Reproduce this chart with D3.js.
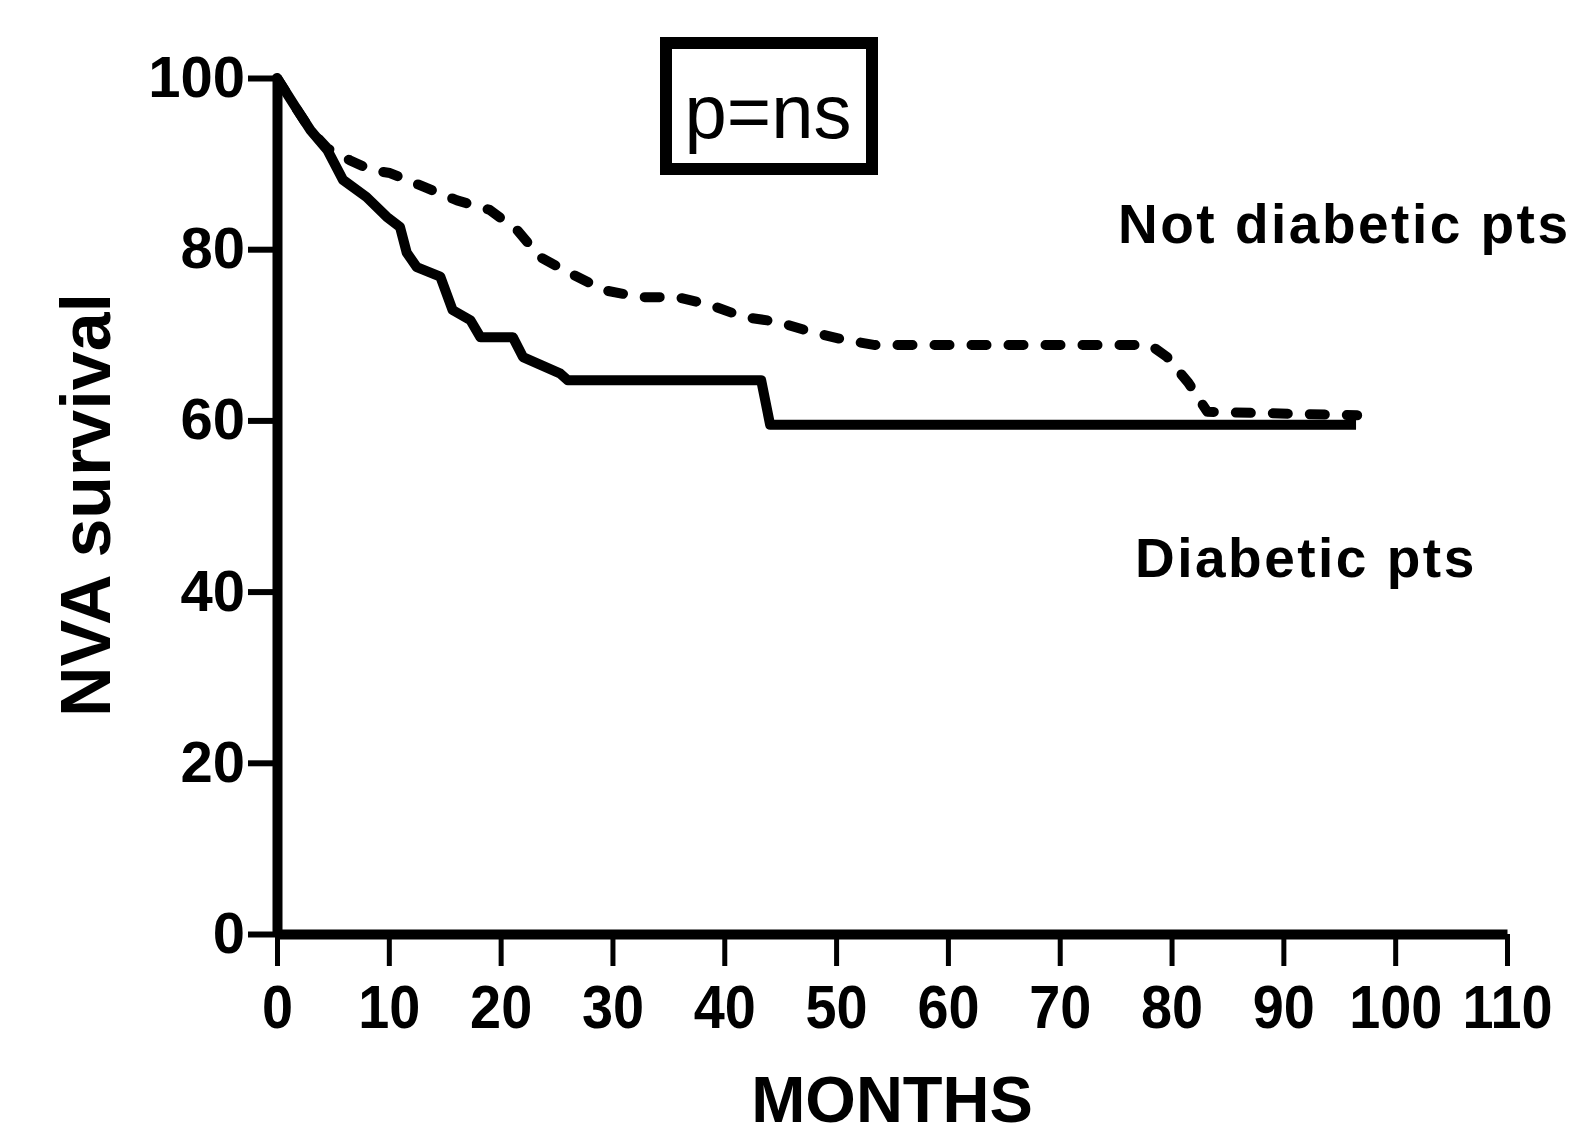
<!DOCTYPE html>
<html>
<head>
<meta charset="utf-8">
<script src="https://cdn.jsdelivr.net/npm/d3@7"></script>
<style>
  body { margin: 0; background: #fff; }
  svg { display: block; }
</style>
</head>
<body>
<div id="chart"></div>
<script>
// survival curves (months, % survival)
const diabetic = [
  [0, 100], [1.8, 96.3], [3.0, 93.9], [4.5, 91.6], [5.9, 88.1], [8.0, 86.1],
  [9.8, 83.8], [11.0, 82.6], [11.6, 79.6], [12.5, 77.9], [14.6, 76.8],
  [15.7, 72.9], [17.3, 71.7], [18.2, 69.7], [21.1, 69.7], [22.0, 67.4],
  [25.3, 65.5], [26.0, 64.7], [43.3, 64.7], [44.1, 59.5], [96.5, 59.5]
];
const notDiabetic = [
  [0, 100], [1.8, 96.3], [3.0, 93.9], [4.5, 91.8], [6.5, 90.4], [8.5, 89.2],
  [10.1, 88.9], [13.1, 87.3], [16.1, 85.7], [19.0, 84.6], [21.5, 82.2],
  [23.5, 79.1], [26.2, 77.2], [29.3, 75.2], [32.5, 74.4], [35.8, 74.4],
  [38.7, 73.5], [41.7, 72.1], [44.8, 71.5], [47.9, 70.3], [50.8, 69.4],
  [53.5, 68.8], [78.1, 68.8], [79.6, 67.4], [81.5, 64.4], [83.2, 61.0],
  [96.6, 60.6]
];
const xTicks = [0, 10, 20, 30, 40, 50, 60, 70, 80, 90, 100, 110];
const yTicks = [0, 20, 40, 60, 80, 100];

const width = 1573, height = 1145;
const svg = d3.select("#chart").append("svg")
    .attr("width", width).attr("height", height);

const x = d3.scaleLinear().domain([0, 110]).range([277, 1507]);
const y = d3.scaleLinear().domain([0, 100]).range([934, 78]);

// y axis
const yAxis = svg.append("g")
    .attr("transform", `translate(${x(0)},0)`)
    .call(d3.axisLeft(y).tickValues(yTicks).tickSize(29).tickSizeOuter(0).tickPadding(3));
yAxis.select(".domain").attr("stroke-width", 10);
yAxis.selectAll(".tick line").attr("stroke-width", 6);
yAxis.selectAll(".tick text")
    .attr("font-family", "Liberation Sans, Arial, sans-serif")
    .attr("font-weight", "bold").attr("font-size", 58).attr("fill", "#000");

// x axis
const xAxis = svg.append("g")
    .attr("transform", `translate(0,${y(0)})`)
    .call(d3.axisBottom(x).tickValues(xTicks).tickSize(32).tickSizeOuter(0).tickPadding(18));
xAxis.select(".domain").attr("stroke-width", 10);
xAxis.selectAll(".tick line").attr("stroke-width", 5);
xAxis.selectAll(".tick text")
    .attr("font-family", "Liberation Sans, Arial, sans-serif")
    .attr("font-weight", "bold").attr("font-size", 62).attr("fill", "#000")
    .attr("transform", "scale(0.9,1)");

const line = d3.line().x(d => x(d[0])).y(d => y(d[1]));

svg.append("path").datum(notDiabetic)
    .attr("d", line).attr("fill", "none").attr("stroke", "#000")
    .attr("stroke-width", 10).attr("stroke-linecap", "round")
    .attr("stroke-linejoin", "round").attr("stroke-dasharray", "15,22");

svg.append("path").datum(diabetic)
    .attr("d", line).attr("fill", "none").attr("stroke", "#000")
    .attr("stroke-width", 10).attr("stroke-linejoin", "round");

// p value box
svg.append("rect")
    .attr("x", 666).attr("y", 43).attr("width", 206).attr("height", 126)
    .attr("fill", "none").attr("stroke", "#000").attr("stroke-width", 12);
svg.append("text")
    .attr("x", 768).attr("y", 138).attr("text-anchor", "middle")
    .attr("font-family", "Liberation Sans, Arial, sans-serif")
    .attr("font-size", 76).text("p=ns");

const bold = sel => sel
    .attr("font-family", "Liberation Sans, Arial, sans-serif")
    .attr("font-weight", "bold").attr("fill", "#000");

svg.append("text").call(bold)
    .attr("x", 1118).attr("y", 243).attr("font-size", 55)
    .attr("letter-spacing", 2.5).text("Not diabetic pts");
svg.append("text").call(bold)
    .attr("x", 1135).attr("y", 577).attr("font-size", 55)
    .attr("letter-spacing", 2.5).text("Diabetic pts");

svg.append("text").call(bold)
    .attr("transform", "translate(110,505) rotate(-90)")
    .attr("text-anchor", "middle").attr("font-size", 70).text("NVA survival");
svg.append("text").call(bold)
    .attr("x", 892).attr("y", 1122).attr("text-anchor", "middle")
    .attr("font-size", 65).text("MONTHS");
</script>
</body>
</html>
